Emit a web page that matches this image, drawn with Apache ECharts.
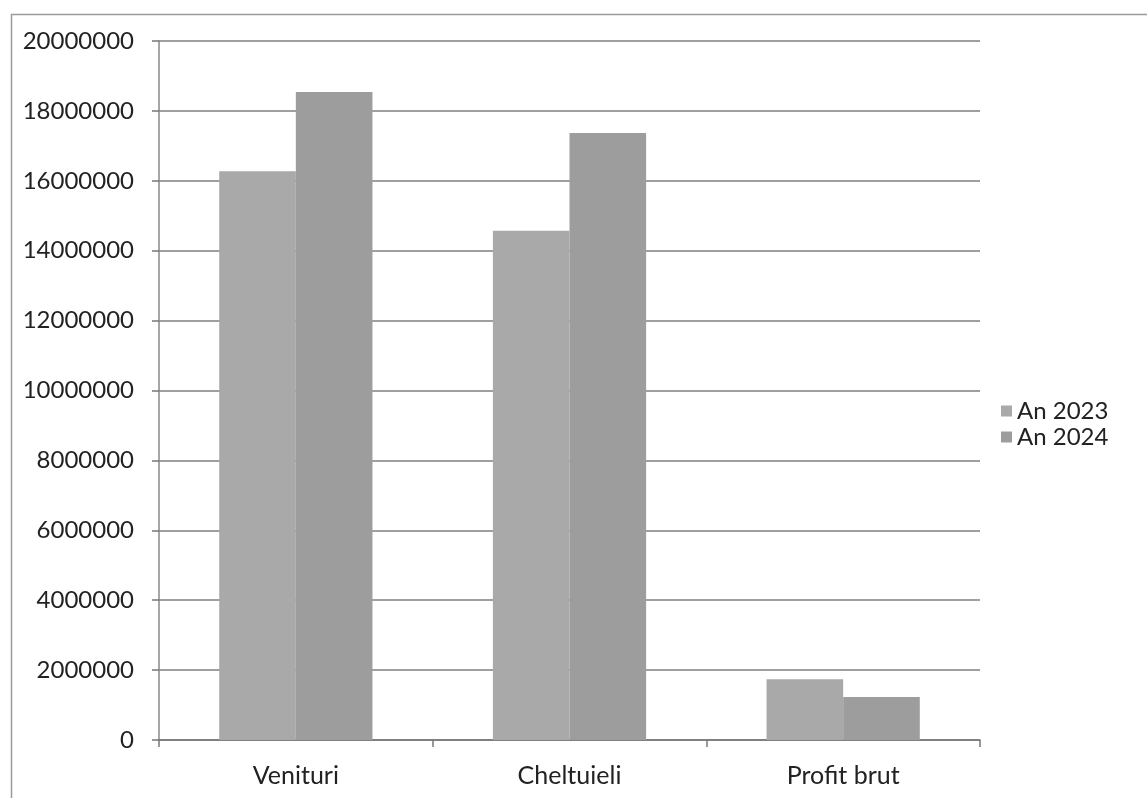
<!DOCTYPE html>
<html><head><meta charset="utf-8">
<script src="https://cdn.jsdelivr.net/npm/echarts@6/dist/echarts.min.js"></script>
<style>html,body{margin:0;padding:0;background:#fff}#c{width:1147px;height:798px}</style>
</head><body><div id="c"></div>
<script>
const categories = ['Venituri', 'Cheltuieli', 'Profit brut'];
const seriesNames = ['An 2023', 'An 2024'];
const values2023 = [16270000, 14570000, 1740000];
const values2024 = [18540000, 17370000, 1230000];
const yTicks = [0, 2000000, 4000000, 6000000, 8000000, 10000000, 12000000, 14000000, 16000000, 18000000, 20000000];

const font = 'Lato, "Open Sans", sans-serif';
const chart = echarts.init(document.getElementById('c'));
chart.setOption({
  animation: false,
  backgroundColor: '#fff',
  graphic: [{
    type: 'rect', left: 9, top: 12,
    shape: { width: 1160, height: 800 },
    style: { fill: 'none', stroke: '#9a9a9a', lineWidth: 1.5 }
  }],
  grid: { left: 159, right: 167, top: 41, bottom: 58 },
  legend: {
    orient: 'vertical', left: 996, top: 394, itemWidth: 11, itemHeight: 11, itemGap: 2,
    icon: 'rect',
    textStyle: { fontFamily: font, fontSize: 24, color: '#222' },
    data: seriesNames
  },
  xAxis: {
    type: 'category', data: categories,
    axisLine: { lineStyle: { color: '#777', width: 1.5 } },
    axisTick: { show: true, length: 7, lineStyle: { color: '#777', width: 1.5 } },
    axisLabel: { fontFamily: font, fontSize: 25, color: '#222', margin: 23 }
  },
  yAxis: {
    type: 'value', min: yTicks[0], max: yTicks[yTicks.length - 1], interval: 2000000,
    axisLine: { show: true, lineStyle: { color: '#888', width: 1.5 } },
    axisTick: { show: true, length: 7, lineStyle: { color: '#777', width: 1.5 } },
    splitLine: { lineStyle: { color: '#7f7f7f', width: 1.5 } },
    axisLabel: { fontFamily: font, fontSize: 24, color: '#222', margin: 25, formatter: v => String(v) }
  },
  series: [
    { name: seriesNames[0], type: 'bar', data: values2023, barGap: '0%', barCategoryGap: '44%',
      itemStyle: { color: '#a9a9a9' } },
    { name: seriesNames[1], type: 'bar', data: values2024, barGap: '0%', barCategoryGap: '44%',
      itemStyle: { color: '#9d9d9d' } }
  ]
});
</script></body></html>
